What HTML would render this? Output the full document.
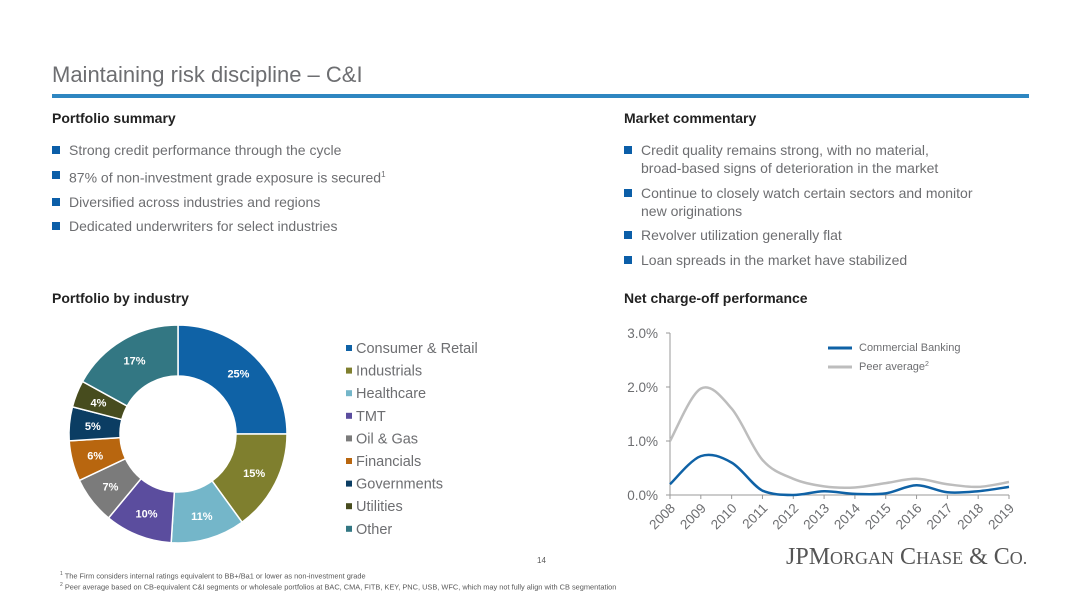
<!DOCTYPE html>
<html><head><meta charset="utf-8"><style>
body{margin:0;width:1080px;height:608px;background:#fff;font-family:"Liberation Sans",sans-serif;position:relative;overflow:hidden;color:#595959}
.a{position:absolute;white-space:nowrap}
h1{position:absolute;left:52px;top:62px;margin:0;font-size:22px;font-weight:normal;color:#6d6e71}
.rule{position:absolute;left:52px;top:94px;width:977px;height:4px;background:#2e86c1}
.sec{font-weight:bold;font-size:14px;color:#222}
ul{list-style:none;margin:0;padding:0;position:absolute;font-size:14px;color:#6d6e71;line-height:18px}
li{position:relative;padding-left:17px;margin-bottom:6.6px}
li:before{content:"";position:absolute;left:0;top:5px;width:8px;height:8px;background:#0b5ea8}
sup{font-size:8px}
</style></head><body>
<h1>Maintaining risk discipline – C&amp;I</h1>
<div class="rule"></div>
<div class="a sec" style="left:52px;top:110px">Portfolio summary</div>
<div class="a sec" style="left:624px;top:110px">Market commentary</div>
<ul style="left:52px;top:141px;width:520px">
<li>Strong credit performance through the cycle</li>
<li>87% of non-investment grade exposure is secured<sup>1</sup></li>
<li>Diversified across industries and regions</li>
<li>Dedicated underwriters for select industries</li>
</ul>
<ul style="left:624px;top:141px;width:400px">
<li>Credit quality remains strong, with no material,<br>broad-based signs of deterioration in the market</li>
<li>Continue to closely watch certain sectors and monitor<br>new originations</li>
<li>Revolver utilization generally flat</li>
<li>Loan spreads in the market have stabilized</li>
</ul>
<div class="a sec" style="left:52px;top:290px">Portfolio by industry</div>
<div class="a sec" style="left:624px;top:290px">Net charge-off performance</div>

<svg class="a" style="left:0;top:0" width="1080" height="608" id="charts"></svg>

<div class="a" style="left:537px;top:556px;font-size:8px">14</div>
<div class="a" style="left:786px;top:544px;font-family:'Liberation Serif',serif;font-size:24px;color:#555">JPM<span style="font-size:18px">ORGAN</span> C<span style="font-size:18px">HASE</span> &amp; C<span style="font-size:18px">O.</span></div>
<div class="a" style="left:60px;top:571px;font-size:7.4px"><sup style="font-size:5px">1</sup> The Firm considers internal ratings equivalent to BB+/Ba1 or lower as non-investment grade</div>
<div class="a" style="left:60px;top:582px;font-size:7.4px"><sup style="font-size:5px">2</sup> Peer average based on CB-equivalent C&amp;I segments or wholesale portfolios at BAC, CMA, FITB, KEY, PNC, USB, WFC, which may not fully align with CB segmentation</div>

<script>
const industries=["Consumer & Retail","Industrials","Healthcare","TMT","Oil & Gas","Financials","Governments","Utilities","Other"];
const shares=[25,15,11,10,7,6,5,4,17];
const sliceColors=["#0f62a6","#7f7f2e","#74b6c9","#5b4d9e","#7b7b7b","#b8660f","#0b3d63","#474c1e","#337783"];
const years=["2008","2009","2010","2011","2012","2013","2014","2015","2016","2017","2018","2019"];
const cbValues=[0.20,0.72,0.60,0.08,0.00,0.07,0.02,0.03,0.18,0.05,0.07,0.15];
const peerValues=[1.00,1.97,1.60,0.65,0.30,0.16,0.14,0.22,0.30,0.20,0.15,0.24];
const yTicks=[0,1,2,3];
const NS="http://www.w3.org/2000/svg";
const svg=document.getElementById('charts');
function mk(t,a,p){const e=document.createElementNS(NS,t);for(const k in a)e.setAttribute(k,a[k]);(p||svg).appendChild(e);return e;}
const cx=178,cy=434,R=109,r=58;
const tot=shares.reduce((a,b)=>a+b,0);
let ang=0;
shares.forEach((v,i)=>{
 const a0=ang,a1=ang+v/tot*2*Math.PI;ang=a1;
 const p=(a,rad)=>[cx+rad*Math.sin(a),cy-rad*Math.cos(a)];
 const [x0,y0]=p(a0,R),[x1,y1]=p(a1,R),[x2,y2]=p(a1,r),[x3,y3]=p(a0,r);
 const lg=(a1-a0)>Math.PI?1:0;
 const s=mk('path',{d:`M${x0},${y0}A${R},${R} 0 ${lg} 1 ${x1},${y1}L${x2},${y2}A${r},${r} 0 ${lg} 0 ${x3},${y3}Z`,fill:sliceColors[i],stroke:'#fff','stroke-width':1.5});
 
 
 const [lx,ly]=p((a0+a1)/2,(R+r)/2+2);
 const t=mk('text',{x:lx,y:ly+4,'text-anchor':'middle','font-size':11,'font-weight':'bold',fill:'#fff'});t.textContent=v+'%';
 
 
 const ly2=347+i*22.6;
 const sq=mk('rect',{x:346,y:ly2-2,width:6,height:6,fill:sliceColors[i]});
 
 
 const lt=mk('text',{x:356,y:ly2+6,'font-size':14.5,fill:'#6d6e71'});lt.textContent=industries[i];
 
 
});
const X0=670,X1=1009,Y0=495,PY=54;
const xs=i=>X0+i*(X1-X0)/(years.length-1);
const ys=v=>Y0-v*PY;
mk('line',{x1:X0,y1:333,x2:X0,y2:Y0,stroke:'#999','stroke-width':1});
mk('line',{x1:X0,y1:Y0,x2:X1,y2:Y0,stroke:'#999','stroke-width':1});
yTicks.forEach(v=>{
 mk('line',{x1:X0-4,y1:ys(v),x2:X0,y2:ys(v),stroke:'#999'});
 const t=mk('text',{x:X0-12,y:ys(v)+5,'text-anchor':'end','font-size':13.5,fill:'#6d6e71'});t.textContent=v.toFixed(1)+'%';
 
 
});
years.forEach((y,i)=>{
 mk('line',{x1:xs(i),y1:Y0,x2:xs(i),y2:Y0+4,stroke:'#999'});
 const t=mk('text',{x:xs(i)+6,y:Y0+14,'text-anchor':'end','font-size':13.5,fill:'#6d6e71',transform:`rotate(-45 ${xs(i)+6} ${Y0+14})`});t.textContent=y;
 
 
});
function smooth(vals){
 const pts=vals.map((v,i)=>[xs(i),ys(v)]);
 let d=`M${pts[0][0]},${pts[0][1]}`;
 for(let i=0;i<pts.length-1;i++){
  const p0=pts[Math.max(0,i-1)],p1=pts[i],p2=pts[i+1],p3=pts[Math.min(pts.length-1,i+2)];
  const c1=[p1[0]+(p2[0]-p0[0])/6,p1[1]+(p2[1]-p0[1])/6],c2=[p2[0]-(p3[0]-p1[0])/6,p2[1]-(p3[1]-p1[1])/6];
  d+=`C${c1[0]},${Math.min(c1[1],Y0)} ${c2[0]},${Math.min(c2[1],Y0)} ${p2[0]},${p2[1]}`;
 }
 return d;
}
const pl=mk('path',{d:smooth(peerValues),fill:'none',stroke:'#bdbdbd','stroke-width':2.5});


const cl=mk('path',{d:smooth(cbValues),fill:'none',stroke:'#0f62a6','stroke-width':2.5});


mk('line',{x1:828,y1:348,x2:852,y2:348,stroke:'#0f62a6','stroke-width':3});
mk('line',{x1:828,y1:367,x2:852,y2:367,stroke:'#bdbdbd','stroke-width':3});
const l1=mk('text',{x:859,y:351,'font-size':11,fill:'#6d6e71'});l1.textContent='Commercial Banking';


const l2=mk('text',{x:859,y:370,'font-size':11,fill:'#6d6e71'});l2.innerHTML='Peer average<tspan font-size="7" dy="-4">2</tspan>';


</script>
</body></html>
